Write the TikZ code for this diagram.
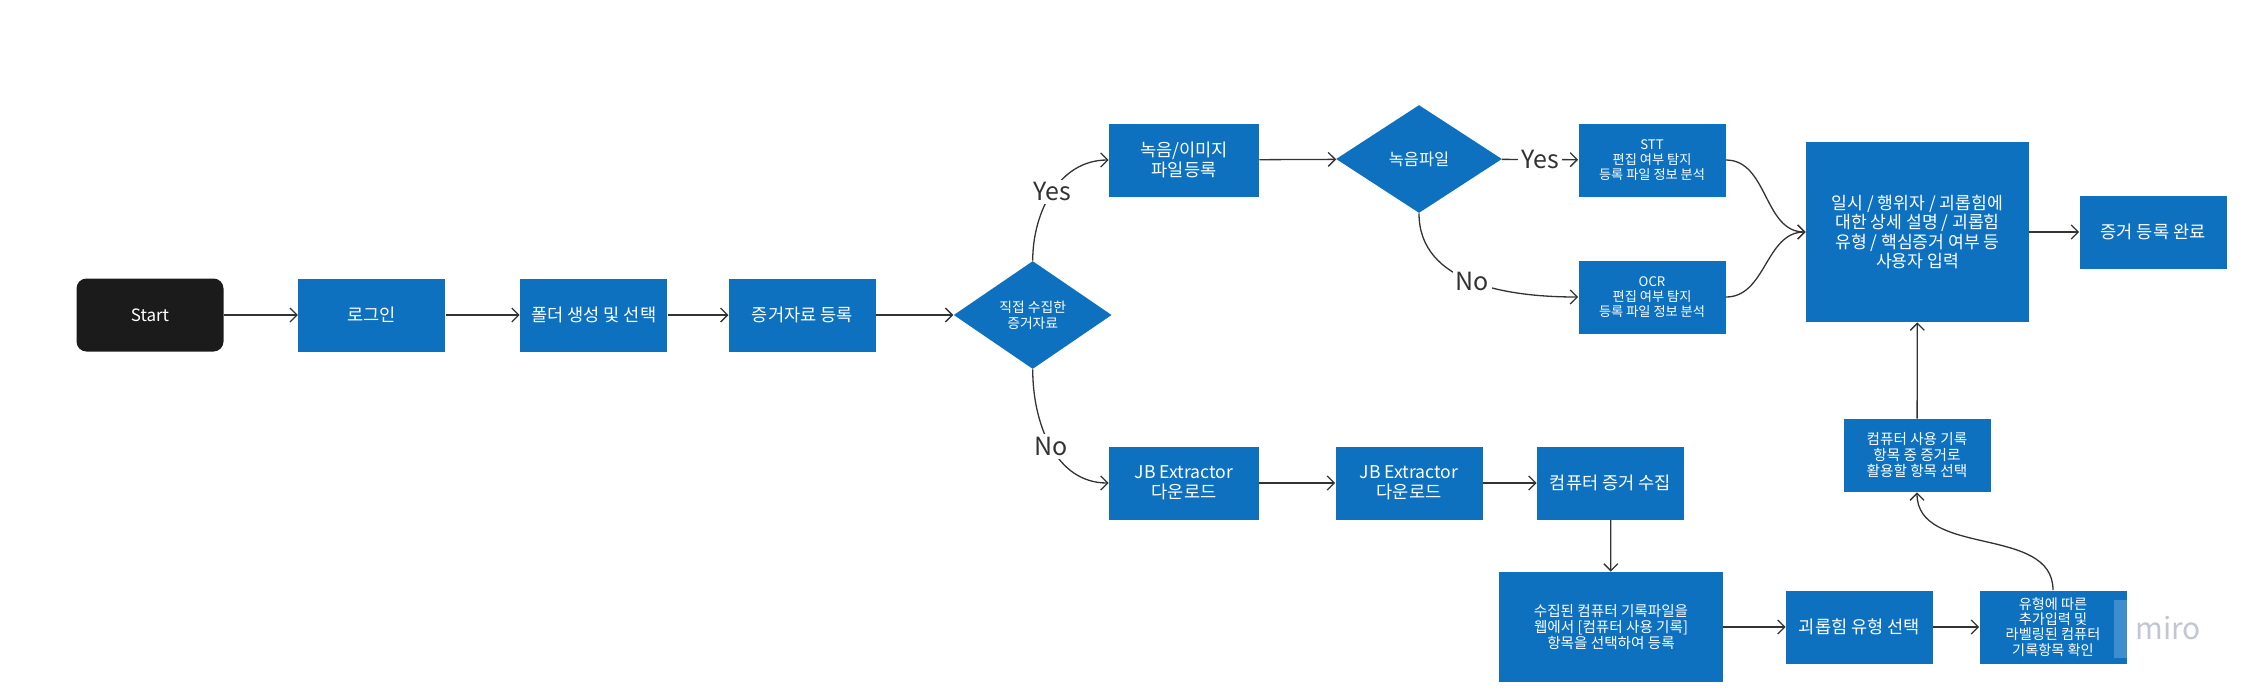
\documentclass[tikz,border=0pt]{standalone}
\usepackage{fontspec}
\setmainfont{Noto Sans CJK KR}
\usetikzlibrary{arrows.meta,positioning,shapes.geometric}
\definecolor{miroblue}{HTML}{0E71C0}
\definecolor{startblack}{HTML}{1B1B1B}
\definecolor{linegray}{HTML}{333333}
\definecolor{markgray}{HTML}{C2C6D2}
\tikzset{
    task/.style = {
        rectangle,
        fill = miroblue,
        text = white,
        align = center,
        inner sep = 1pt,
        minimum width = 73.5pt,
        minimum height = 36.5pt,
        font = \fontsize{8.8}{10.2}\selectfont,
        },
    small text/.style = {
        font = \fontsize{7.3}{8}\selectfont,
        },
    tiny text/.style = {
        font = \fontsize{6.6}{7.6}\selectfont,
        },
    decision/.style = {
        diamond,
        fill = miroblue,
        text = white,
        align = center,
        inner sep = 0pt,
        minimum width = 79pt,
        minimum height = 54pt,
        font = \fontsize{6.9}{8}\selectfont,
        },
    start node/.style = {
        rectangle,
        rounded corners = 5pt,
        fill = startblack,
        text = white,
        minimum width = 73.5pt,
        minimum height = 36.5pt,
        font = \fontsize{8.5}{10}\selectfont,
        },
    flow/.style = {
        draw = linegray,
        line width = 0.65pt,
        -{Straight Barb[length=3.5pt,width=7pt]},
        },
    answer/.style = {
        fill = white,
        text = linegray,
        inner sep = 1.5pt,
        font = \fontsize{12.5}{14}\selectfont,
        },
}

\begin{document}
\begin{tikzpicture}[x=0.5pt, y=-0.5pt]
            \useasboundingbox (0,0) rectangle (2253,693);

            \node[start node] (start) at (150,315) {Start};
            \node[task, right=37pt of start] (login) {로그인};
            \node[task, right=37pt of login] (folder) {폴더 생성 및 선택};
            \node[task, right=30.5pt of folder] (evidence) {증거자료 등록};
            \node[decision, right=38.5pt of evidence] (direct) {직접 수집한\\증거자료};

            \node[task, minimum width=75pt] (media) at (1184,160) {녹음/이미지\\파일등록};
            \node[decision, minimum width=83pt, font=\fontsize{8.2}{10}\selectfont] (voice) at (1419,159) {녹음파일};
            \node[task, tiny text] (stt) at (1652,160) {STT\\편집 여부 탐지\\등록 파일 정보 분석};
            \node[task, tiny text] (ocr) at (1652,297) {OCR\\편집 여부 탐지\\등록 파일 정보 분석};
            \node[task, minimum width=111.5pt, minimum height=90pt, font=\fontsize{8.6}{9.75}\selectfont] (detail) at (1917.5,232)
                {일시 / 행위자 / 괴롭힘에\\대한 상세 설명 / 괴롭힘\\유형 / 핵심증거 여부 등\\사용자 입력};
            \node[task] (done) at (2153,232) {증거 등록 완료};

            \node[task, minimum width=75pt] (jbone) at (1184,483) {JB Extractor\\다운로드};
            \node[task] (jbtwo) at (1409,483) {JB Extractor\\다운로드};
            \node[task] (collect) at (1610.5,483) {컴퓨터 증거 수집};
            \node[task, minimum width=112pt, minimum height=55pt, small text] (register) at (1611,627)
                {수집된 컴퓨터 기록파일을\\웹에서 [컴퓨터 사용 기록]\\항목을 선택하여 등록};
            \node[task] (type) at (1859.5,627) {괴롭힘 유형 선택};
            \node[task, font=\fontsize{7.1}{7.6}\selectfont] (check) at (2053,627)
                {유형에 따른\\추가입력 및\\라벨링된 컴퓨터\\기록항목 확인};
            \node[task, small text] (pick) at (1917,455.5) {컴퓨터 사용 기록\\항목 중 증거로\\활용할 항목 선택};

            % miro watermark
            \fill[white, opacity=0.2] (2114,600) rectangle (2215,658);
            \node[text=markgray, font=\fontsize{15}{15}\selectfont] (miro) at (2168,628) {miro};

            \path (start) edge[flow] (login);
            \path (login) edge[flow] (folder);
            \path (folder) edge[flow] (evidence);
            \path (evidence) edge[flow] (direct);
            \path (direct) edge[flow, out=90, in=180] node[answer] {Yes} (media);
            \path (direct) edge[flow, out=-90, in=180] node[answer] {No} (jbone);
            \path (media) edge[flow] (voice);
            \path (voice) edge[flow] node[answer] {Yes} (stt);
            \path (voice) edge[flow, out=-90, in=180] node[answer] {No} (ocr);
            \path (stt) edge[flow, out=0, in=180] (detail);
            \path (ocr) edge[flow, out=0, in=180] (detail);
            \path (detail) edge[flow] (done);
            \path (jbone) edge[flow] (jbtwo);
            \path (jbtwo) edge[flow] (collect);
            \path (collect) edge[flow] (register);
            \path (register) edge[flow] (type);
            \path (type) edge[flow] (check);
            \path (check) edge[flow, out=90, in=-90] (pick);
            \path (pick) edge[flow] (detail);
        \end{tikzpicture}
\end{document}
